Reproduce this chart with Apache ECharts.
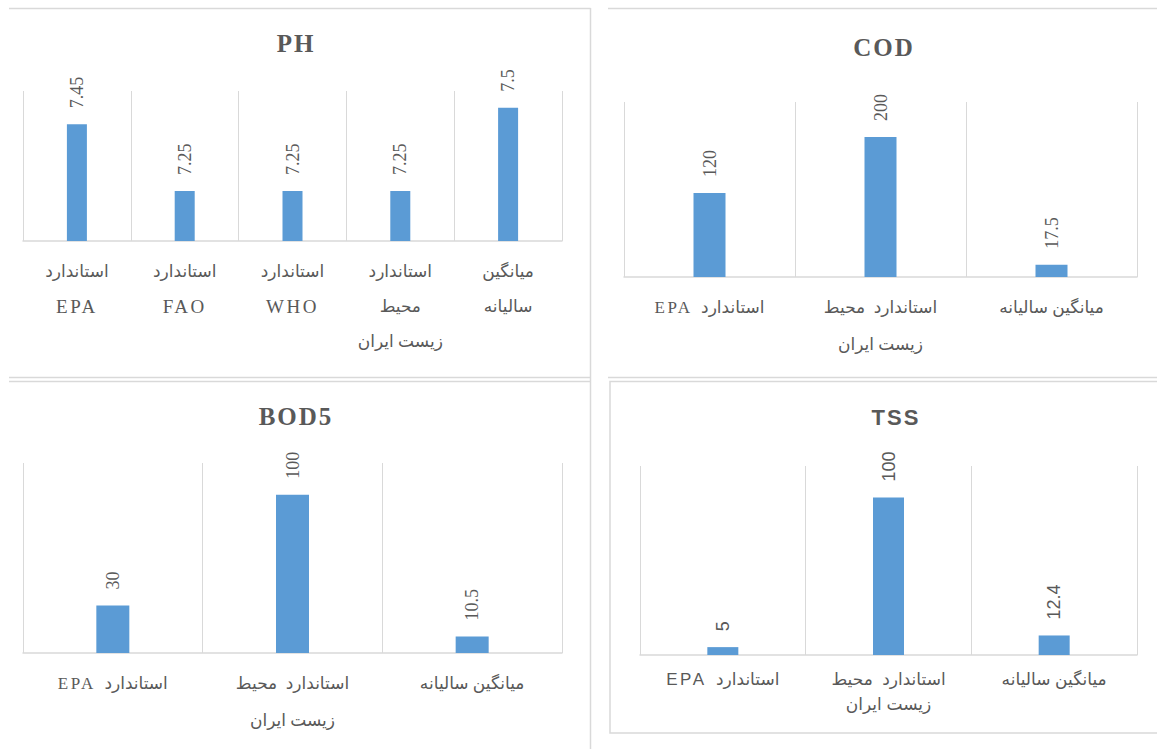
<!DOCTYPE html>
<html><head><meta charset="utf-8">
<script src="https://cdn.jsdelivr.net/npm/echarts@6/dist/echarts.min.js"></script>
<style>
html,body{margin:0;padding:0;background:#fff;}
#c{width:1157px;height:749px;}
#c text[style*="DejaVu"]{letter-spacing:2.5px;}
#c text[style*="bold"]{letter-spacing:2px;}
</style></head><body><div id="c"></div>
<script>
// ---- data ----
const chartTitles = ['PH', 'COD', 'BOD5', 'TSS'];
const phCategories = ['استاندارد\nEPA', 'استاندارد\nFAO', 'استاندارد\nWHO', 'استاندارد\nمحیط\nزیست ایران', 'میانگین\nسالیانه'];
const phValues = [7.45, 7.25, 7.25, 7.25, 7.5];
const codCategories = ['\u202Bاستاندارد  EPA\u202C', 'استاندارد  محیط\nزیست ایران', 'میانگین سالیانه'];
const codValues = [120, 200, 17.5];
const bodCategories = ['\u202Bاستاندارد  EPA\u202C', 'استاندارد  محیط\nزیست ایران', 'میانگین سالیانه'];
const bodValues = [30, 100, 10.5];
const tssCategories = ['\u202Bاستاندارد  EPA\u202C', 'استاندارد  محیط\nزیست ایران', 'میانگین سالیانه'];
const tssValues = [5, 100, 12.4];
const yRanges = [[7.1, 7.55], [0, 250], [0, 120], [0, 120]];

// ---- layout / style ----
const BAR = '#5b9bd5';
const TXT = '#595959';
const GRIDC = '#d9d9d9';
const serifLbl = '"Liberation Serif", serif';
const persianFont = '"Liberation Serif", "DejaVu Sans", serif';
const persianSans = '"Liberation Sans", "DejaVu Sans", sans-serif';

const panels = [
  {cats: phCategories, vals: phValues, grid: {left: 23, top: 91, width: 539, height: 150}, title: {x: 291, y: 38}, barWidth: 20, tfont: serifLbl, lfont: serifLbl, afont: persianFont, lh: 35, margin: 13, tsize: 25, rich: true},
  {cats: codCategories, vals: codValues, grid: {left: 624, top: 102, width: 513, height: 175}, title: {x: 879, y: 42}, barWidth: 32, tfont: serifLbl, lfont: serifLbl, afont: persianFont, lh: 37, margin: 12, tsize: 25},
  {cats: bodCategories, vals: bodValues, grid: {left: 23, top: 463, width: 539, height: 190}, title: {x: 291, y: 411}, barWidth: 33, tfont: serifLbl, lfont: serifLbl, afont: persianFont, lh: 37, margin: 12, tsize: 25},
  {cats: tssCategories, vals: tssValues, grid: {left: 640, top: 466, width: 497, height: 189}, title: {x: 891, y: 412}, barWidth: 31, tfont: '"Liberation Sans", sans-serif', lfont: '"Liberation Sans", sans-serif', afont: persianSans, lh: 25, margin: 12, tsize: 22}
];

function axisLabelFor(p) {
  const base = {interval: 0, color: TXT, fontSize: 17, fontFamily: p.afont, lineHeight: p.lh, margin: p.margin};
  if (!p.rich) return base;
  base.formatter = v => v.split('\n').map(s => /[A-Z]/.test(s) ? '{en|' + s + '}' : '{fa|' + s + '}').join('\n');
  base.rich = {
    en: {fontSize: 19, fontFamily: p.afont, color: TXT, lineHeight: p.lh},
    fa: {fontSize: 17, fontFamily: p.afont, color: TXT, lineHeight: p.lh}
  };
  return base;
}

const option = {
  backgroundColor: '#fff',
  animation: false,
  title: panels.map((p, i) => ({
    text: chartTitles[i], left: p.title.x, top: p.title.y, textAlign: 'center', textVerticalAlign: 'middle',
    textStyle: {color: TXT, fontSize: p.tsize, fontWeight: 'bold', fontFamily: p.tfont}
  })),
  grid: panels.map(p => Object.assign({containLabel: false}, p.grid)),
  xAxis: panels.map((p, i) => ({
    type: 'category', gridIndex: i, data: p.cats,
    axisLine: {lineStyle: {color: GRIDC, width: 1.5}},
    axisTick: {show: false},
    splitLine: {show: true, lineStyle: {color: GRIDC, width: 1}},
    axisLabel: axisLabelFor(p)
  })),
  yAxis: panels.map((p, i) => ({
    type: 'value', gridIndex: i, min: yRanges[i][0], max: yRanges[i][1], show: false, splitLine: {show: false}
  })),
  series: panels.map((p, i) => ({
    type: 'bar', xAxisIndex: i, yAxisIndex: i, data: p.vals, barWidth: p.barWidth,
    itemStyle: {color: BAR},
    label: {show: true, position: 'top', rotate: 90, align: 'left', verticalAlign: 'middle', distance: 16,
      color: TXT, fontSize: 18, fontFamily: p.lfont}
  })),
  graphic: [
    {type: 'line', shape: {x1: 9, y1: 8.5, x2: 590.5, y2: 8.5}, style: {stroke: GRIDC, lineWidth: 1.5}},
    {type: 'line', shape: {x1: 9, y1: 377.5, x2: 590.5, y2: 377.5}, style: {stroke: GRIDC, lineWidth: 1.5}},
    {type: 'line', shape: {x1: 590.5, y1: 8, x2: 590.5, y2: 749}, style: {stroke: GRIDC, lineWidth: 1.5}},
    {type: 'line', shape: {x1: 608, y1: 8.5, x2: 1157, y2: 8.5}, style: {stroke: GRIDC, lineWidth: 1.5}},
    {type: 'line', shape: {x1: 608, y1: 377.5, x2: 1157, y2: 377.5}, style: {stroke: GRIDC, lineWidth: 1.5}},
    {type: 'line', shape: {x1: 9, y1: 381.5, x2: 590.5, y2: 381.5}, style: {stroke: GRIDC, lineWidth: 1.5}},
    {type: 'polyline', shape: {points: [[1157, 381.5], [610, 381.5], [610, 733], [1157, 733]]}, style: {stroke: GRIDC, lineWidth: 1.5, fill: null}}
  ]
};

const chart = echarts.init(document.getElementById('c'), null, {renderer: 'svg', width: 1157, height: 749});
chart.setOption(option);
</script></body></html>
